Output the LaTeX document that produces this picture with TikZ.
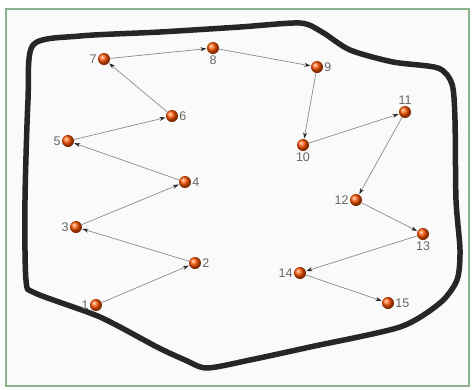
\documentclass[tikz,border=0pt]{standalone}
\usepackage{fontspec}
\setmainfont{Liberation Sans}
\usepackage{tikz}
\usetikzlibrary{arrows.meta,shadings}

\begin{document}
\begin{tikzpicture}[
  x=1pt, y=-1pt,
  pt/.style={circle, inner sep=0pt, minimum size=12pt, ball color=orange!65!red, draw=none},
  num/.style={font=\fontsize{12.5}{12.5}\selectfont, text=black!60, inner sep=1pt},
  link/.style={draw=black!45, line width=0.7pt, -{Stealth[length=6pt,width=4pt,black!85]}, shorten >=0.5pt},
  >=Stealth
]
\useasboundingbox (0,0) rectangle (472,389);
% frame around the whole sheet
\draw[fill=black!2, draw=green!35!black!45, line width=1.2pt] (6,9) rectangle (469,386);

% hand-drawn outline of the region
\draw[line width=5.5pt, black!85, line join=round]
  plot[smooth cycle, tension=0.45] coordinates {
    (33,45) (80,36) (160,32) (240,27) (300,23) (322,32) (350,50) (393,62)
    (438,68) (452,84) (455,120) (456,200) (460,250) (457,280) (440,303)
    (400,327) (310,347) (250,360) (207,368) (185,360) (157,347) (100,317)
    (35,293) (26,280) (25,200) (28,100)};

% stops
\node[pt, label={[num]left:1}]   (n1)  at (96,305)  {};
\node[pt, label={[num]right:2}]  (n2)  at (195,263) {};
\node[pt, label={[num]left:3}]   (n3)  at (76,227)  {};
\node[pt, label={[num]right:4}]  (n4)  at (185,182) {};
\node[pt, label={[num]left:5}]   (n5)  at (68,141)  {};
\node[pt, label={[num]right:6}]  (n6)  at (172,116) {};
\node[pt, label={[num]left:7}]   (n7)  at (104,59)  {};
\node[pt, label={[num]below:8}]  (n8)  at (213,48)  {};
\node[pt, label={[num]right:9}]  (n9)  at (317,67)  {};
\node[pt, label={[num]below:10}] (n10) at (303,145) {};
\node[pt, label={[num]above:11}] (n11) at (405,112) {};
\node[pt, label={[num]left:12}]  (n12) at (356,200) {};
\node[pt, label={[num]below:13}] (n13) at (423,234) {};
\node[pt, label={[num]left:14}]  (n14) at (300,273) {};
\node[pt, label={[num]right:15}] (n15) at (388,303) {};

% route
\foreach \a/\b in {1/2,2/3,3/4,4/5,5/6,6/7,7/8,8/9,9/10,10/11,11/12,12/13,13/14,14/15}
  \draw[link] (n\a) -- (n\b);
\end{tikzpicture}
\end{document}
